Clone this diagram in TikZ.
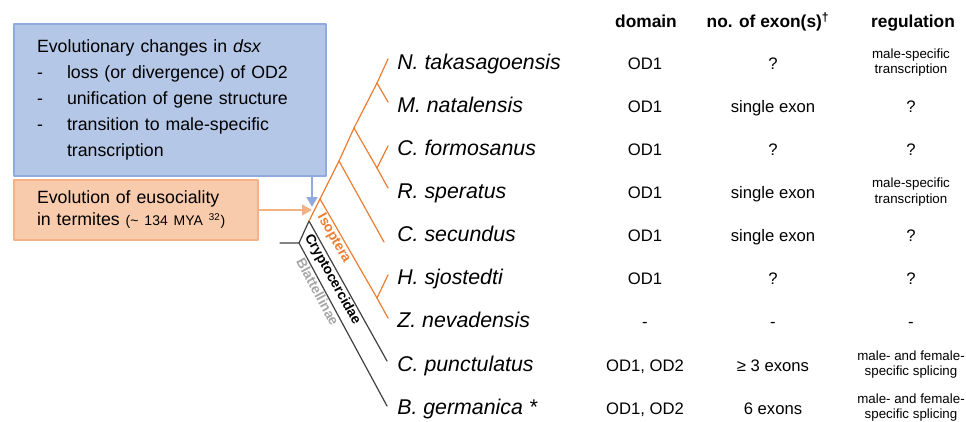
\documentclass[tikz,border=0pt]{standalone}
\usepackage{fontspec}
\setmainfont{Liberation Sans}
\usetikzlibrary{arrows.meta}
\definecolor{boxblue}{HTML}{B4C7E7}
\definecolor{lineblue}{HTML}{8FAADC}
\definecolor{boxorange}{HTML}{F8CBAD}
\definecolor{lineorange}{HTML}{F4B183}
\definecolor{termite}{HTML}{ED7D31}
\definecolor{treegray}{HTML}{404040}
\definecolor{labelgray}{HTML}{A6A6A6}
\begin{document}
\begin{tikzpicture}[x=0.75pt, y=-0.75pt, >={Stealth[length=7.5pt, width=8pt, inset=0pt]},
	line join=round, line cap=round,
	branch/.style={line width=0.9pt},
	species/.style={anchor=base west, inner sep=0pt, font=\fontsize{16}{19}\selectfont\itshape},
	cell/.style={anchor=base, inner sep=0pt, font=\fontsize{12.5}{15}\selectfont},
	small/.style={anchor=center, yshift=4.9pt, inner sep=0pt, align=center, font=\fontsize{10}{11.3}\selectfont},
	head/.style={anchor=base, inner sep=0pt, font=\fontsize{13}{15}\selectfont\bfseries},
	clade/.style={sloped, below, inner sep=1pt, font=\fontsize{10.4}{12}\selectfont\bfseries},
	infobox/.style={anchor=north west, line width=1.5pt, align=left, inner xsep=17.5pt}]
	\useasboundingbox (0,0) rectangle (966,421);
	% boxes on the left
	\node[infobox, draw=lineblue, fill=boxblue, minimum width=234pt, minimum height=114pt, text width=199pt,
		font=\fontsize{13.3}{19.5}\selectfont] (dsx) at (12.7,23) {Evolutionary changes in \textit{dsx}\\
		\makebox[22.5pt][l]{-}loss (or divergence) of OD2\\
		\makebox[22.5pt][l]{-}unification of gene structure\\
		\makebox[22.5pt][l]{-}transition to male-specific\\
		\hspace*{22.5pt}transcription};
	\node[infobox, draw=lineorange, fill=boxorange, minimum width=183pt, minimum height=45pt, text width=148pt,
		font=\fontsize{13.3}{16.5}\selectfont] (euso) at (12.7,179) {Evolution of eusociality\\
		in termites {\fontsize{10.5}{12}\selectfont(\textasciitilde{} 134 MYA \textsuperscript{32})}};
	\coordinate (stem) at (312,207);
	\draw[->, lineblue, line width=2.2pt] (dsx.south -| stem) -- (stem);
	\draw[->, lineorange, line width=1.6pt] (euso.east) -- (euso.east -| stem);
	% tree
	\coordinate (stub) at (280,243);
	\coordinate (root) at (299,243);
	\coordinate (crypto) at (309,221);
	\coordinate (isop) at (320,199);
	\coordinate (n5) at (339,161);
	\coordinate (n4) at (354,128);
	\coordinate (n1) at (377,83);
	\coordinate (n2) at (377,168);
	\coordinate (n3) at (377,298);
	\coordinate (tN) at (388,59);
	\coordinate (tM) at (388,102);
	\coordinate (tCf) at (388,146);
	\coordinate (tR) at (388,188);
	\coordinate (tCs) at (384,242);
	\coordinate (tH) at (388,275);
	\coordinate (tZ) at (388,318);
	\coordinate (tCp) at (387,361);
	\coordinate (tB) at (387,406);
	\draw[branch, treegray] (stub) -- (root) -- (crypto) -- (tCp);
	\draw[branch, treegray] (root) -- (tB);
	\draw[branch, termite] (crypto) -- (isop) -- (n5) -- (n4) -- (n1) -- (tN);
	\draw[branch, termite] (n1) -- (tM);
	\draw[branch, termite] (n4) -- (n2) -- (tR);
	\draw[branch, termite] (n2) -- (tCf);
	\draw[branch, termite] (n5) -- (tCs);
	\draw[branch, termite] (isop) -- (n3) -- (tZ);
	\draw[branch, termite] (n3) -- (tH);
	\path (isop) -- (tZ) node[clade, termite, pos=0.3] (isolab) {Isoptera};
	\path (crypto) -- (tCp) node[clade, pos=0.39] (crylab) {Cryptocercidae};
	\path (root) -- (tB) node[clade, labelgray, pos=0.28] (blalab) {Blattellinae};
	% table
	\node[head] (hdom) at (646,27) {domain};
	\node[head] (hexo) at (768,27) {no. of exon(s)\textsuperscript{\textdagger}};
	\node[head] (hreg) at (913,27) {regulation};
	\foreach \i/\sp/\dom/\exo/\reg/\rs in {
		1/N. takasagoensis/OD1/?/{male-specific\\transcription}/small,
		2/M. natalensis/OD1/single exon/?/cell,
		3/C. formosanus/OD1/?/?/cell,
		4/R. speratus/OD1/single exon/{male-specific\\transcription}/small,
		5/C. secundus/OD1/single exon/?/cell,
		6/H. sjostedti/OD1/?/?/cell,
		7/Z. nevadensis/-/-/-/cell,
		8/C. punctulatus/{OD1, OD2}/≥ 3 exons/{male- and female-\\specific splicing}/small,
		9/B. germanica */{OD1, OD2}/6 exons/{male- and female-\\specific splicing}/small}
	{
		\pgfmathsetmacro\yb{69.3+43.1*(\i-1)}
		\node[species] (sp\i) at (397,\yb) {\sp};
		\node[cell] (dom\i) at (645,\yb) {\dom};
		\node[cell] (exo\i) at (773,\yb) {\exo};
		\node[\rs] (reg\i) at (911,\yb) {\reg};
	}
\end{tikzpicture}
\end{document}
